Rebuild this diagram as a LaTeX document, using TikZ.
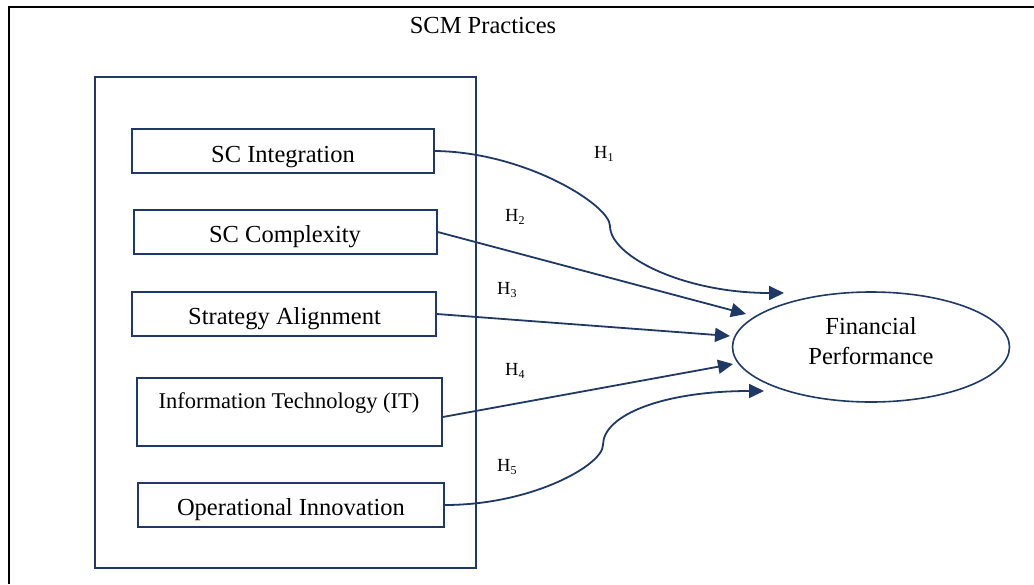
\documentclass[tikz,border=0pt]{standalone}
\usepackage{fontspec}
\setmainfont{Liberation Serif}
\usetikzlibrary{arrows.meta,shapes.geometric,calc}
\definecolor{navy}{RGB}{31,56,100}
\newcommand{\hsub}[1]{H\raisebox{-3pt}{\fontsize{12}{12}\selectfont #1}}
\begin{document}
\begin{tikzpicture}[x=1pt,y=-1pt,
  frameline/.style={line width=2pt,black},
  groupbox/.style={draw=navy,line width=1.8pt,inner sep=0pt},
  factorbox/.style={draw=navy,line width=1.6pt,inner sep=0pt},
  boxtext/.style={anchor=base,inner sep=0pt,font=\fontsize{24.5}{29}\selectfont},
  smalltext/.style={anchor=base,inner sep=0pt,font=\fontsize{22.5}{27}\selectfont},
  hyp/.style={anchor=base west,inner sep=0pt,font=\fontsize{18.5}{20}\selectfont},
  link/.style={draw=navy,line width=1.8pt,-{Triangle[length=15pt,width=14pt]}},
]
\useasboundingbox (0,0) rectangle (1034,584);

% open frame round the whole model
\draw[frameline] (1034,7) -- (9,7) -- (9,584);
\node[boxtext] (title) at (483,33) {SCM Practices};

% group of practices
\node[groupbox,minimum width=381pt,minimum height=491pt] (grp) at (285.5,322.5) {};

% practice boxes
\node[factorbox,minimum width=302pt,minimum height=44pt] (b1) at (283,151) {};
\node[factorbox,minimum width=303pt,minimum height=44pt] (b2) at (285.5,232) {};
\node[factorbox,minimum width=304pt,minimum height=44pt] (b3) at (284,314) {};
\node[factorbox,minimum width=305pt,minimum height=68pt] (b4) at (289.5,412) {};
\node[factorbox,minimum width=306pt,minimum height=44pt] (b5) at (291,505) {};

\begin{scope}
  \clip (b1.south west) rectangle (b1.north east);
  \node[boxtext] (t1) at (283,162) {SC Integration};
\end{scope}
\begin{scope}
  \clip (b2.south west) rectangle (b2.north east);
  \node[boxtext] (t2) at (285,242) {SC Complexity};
\end{scope}
\begin{scope}
  \clip (b3.south west) rectangle (b3.north east);
  \node[boxtext] (t3) at (284.5,324) {Strategy Alignment};
\end{scope}
\node[smalltext] (t4) at (289,408) {Information Technology (IT)};
\begin{scope}
  \clip (b5.south west) rectangle (b5.north east);
  \node[boxtext] (t5) at (291,515) {Operational Innovation};
\end{scope}

% outcome
\node[draw=navy,line width=1.6pt,ellipse,minimum width=277pt,minimum height=110pt,inner sep=0pt] (fp) at (871,347) {};
\node[align=center,inner sep=0pt,font=\fontsize{24.5}{30}\selectfont] (fptext) at (871,341.6) {Financial\\Performance};

% arrow tips near the outcome
\coordinate (e1) at (784,293);
\coordinate (e2) at (746,314);
\coordinate (e3) at (730,336);
\coordinate (e4) at (733,364);
\coordinate (e5) at (764,391);

% hypothesised paths
\draw[link] (b1.east) .. controls (525,152) and (610,205) .. (610,226)
            .. controls (610,256) and (683,293) .. (e1);
\draw[link] (b2.east) -- (e2);
\draw[link] (b3.east) -- (e3);
\draw[link] ($(b4.east)+(0,5)$) -- (e4);
\draw[link] (b5.east) .. controls (532,505) and (603,465) .. (603,445)
            .. controls (603,415) and (663,391) .. (e5);

% hypothesis labels
\node[hyp] (h1) at (594,158) {\hsub{1}};
\node[hyp] (h2) at (505,221) {\hsub{2}};
\node[hyp] (h3) at (497,294) {\hsub{3}};
\node[hyp] (h4) at (505,375) {\hsub{4}};
\node[hyp] (h5) at (497,471) {\hsub{5}};
\end{tikzpicture}
\end{document}
